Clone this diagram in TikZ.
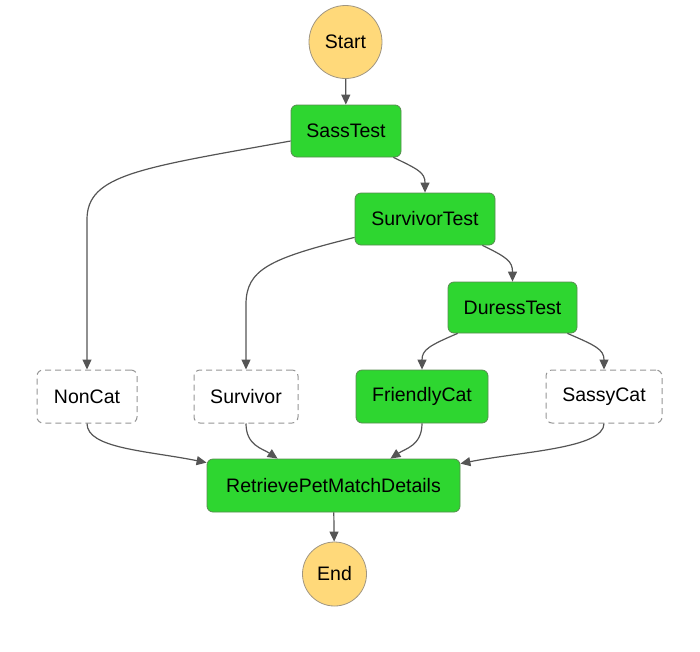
\documentclass[tikz,border=0pt]{standalone}
\usepackage{fontspec}
\setmainfont{Liberation Sans}
\usetikzlibrary{arrows.meta,positioning}
\definecolor{stepgreen}{RGB}{46,214,48}
\definecolor{stepborder}{RGB}{88,140,80}
\definecolor{termfill}{RGB}{255,217,122}
\definecolor{termborder}{RGB}{160,150,130}
\definecolor{dashgray}{RGB}{150,150,150}
\definecolor{arrowgray}{RGB}{85,85,85}
\begin{document}
\begin{tikzpicture}[x=1pt,y=-1pt,
  every node/.style={font=\fontsize{19.5}{23}\selectfont, text=black, inner sep=0pt},
  taskbox/.style={draw=stepborder, line width=0.8pt, fill=stepgreen, rounded corners=6pt, minimum height=52pt},
  passbox/.style={draw=dashgray, line width=1pt, dash pattern=on 6pt off 4pt, fill=white, rounded corners=6pt, minimum height=53pt},
  termnode/.style={circle, draw=termborder, line width=0.8pt, fill=termfill},
  flow/.style={draw=arrowgray, line width=1.2pt, -{Triangle[length=10pt,width=9pt]}}]
\useasboundingbox (0,0) rectangle (700,651);

\node[termnode, minimum size=73pt] (start) at (345.5,42) {Start};
\node[taskbox, minimum width=110pt] (sass) at (346,131) {SassTest};
\node[taskbox, minimum width=140pt] (surv) at (425,219) {SurvivorTest};
\node[taskbox, minimum width=129pt, minimum height=51pt] (duress) at (512.5,307.5) {DuressTest};
\node[passbox, minimum width=100pt] (noncat) at (87,396.5) {NonCat};
\node[passbox, minimum width=104pt] (survivor) at (246,396.5) {Survivor};
\node[taskbox, minimum width=132pt, minimum height=53pt] (friendly) at (422,396.5) {FriendlyCat};
\node[passbox, minimum width=116pt] (sassy) at (604,396.5) {SassyCat};
\node[taskbox, minimum width=253pt, minimum height=53pt] (retrieve) at (333.5,485.5) {RetrievePetMatchDetails};
\node[termnode, minimum size=64pt] (end) at (334.5,574) {End};

\draw[flow] (start) -- (sass);
\draw[flow] ([yshift=-10pt]sass.west) .. controls ++(-150,27) and ++(0,-45) .. ([yshift=150pt]noncat.north) -- (noncat.north);
\draw[flow] ([xshift=-8pt]sass.south east) .. controls ++(25,12) and ++(0,-20) .. (surv.north);
\draw[flow] ([yshift=8pt]surv.south west) .. controls ++(-85,21) and ++(0,-35) .. ([yshift=65pt]survivor.north) -- (survivor.north);
\draw[flow] ([xshift=-13pt]surv.south east) .. controls ++(25,12) and ++(0,-20) .. (duress.north);
\draw[flow] ([xshift=10pt]duress.south west) .. controls ++(-28,12) and ++(0,-20) .. (friendly.north);
\draw[flow] ([xshift=-10pt]duress.south east) .. controls ++(28,12) and ++(0,-20) .. (sassy.north);
\draw[flow] (noncat.south) .. controls ++(0,25) and ++(-60,-12) .. ([yshift=-4pt]retrieve.north west);
\draw[flow] (survivor.south) .. controls ++(0,22) and ++(-15,-10) .. ([xshift=71pt]retrieve.north west);
\draw[flow] (friendly.south) .. controls ++(0,22) and ++(15,-10) .. ([xshift=-70pt]retrieve.north east);
\draw[flow] (sassy.south) .. controls ++(0,25) and ++(60,-12) .. ([yshift=-5pt]retrieve.north east);
\draw[flow] (retrieve) -- (end);
\end{tikzpicture}
\end{document}
